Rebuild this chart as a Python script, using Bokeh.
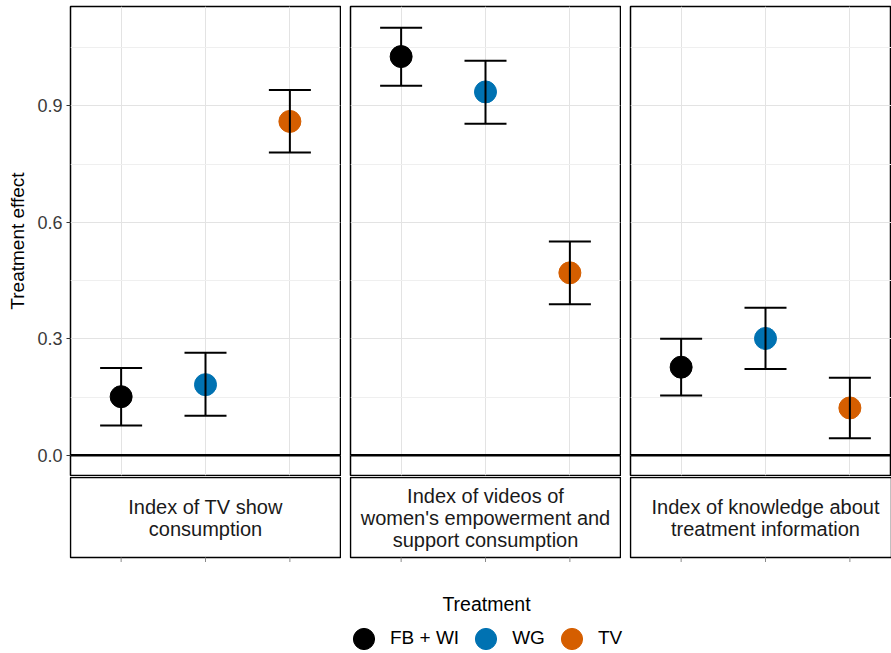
from bokeh.plotting import figure
from bokeh.models import (ColumnDataSource, Range1d, FixedTicker, PrintfTickFormatter,
                          Span, Whisker, TeeHead, Legend, LegendItem, Label)
from bokeh.layouts import column, row
from bokeh.core.properties import value
from bokeh.embed import file_html
from bokeh.resources import INLINE

# ---------------- data ----------------
treatments = ["FB + WI", "WG", "TV"]
colors = ["#000000", "#0072B2", "#D55E00"]
outcomes = [
    "Index of TV show\nconsumption",
    "Index of videos of\nwomen's empowerment and\nsupport consumption",
    "Index of knowledge about\ntreatment information",
]
est_tv = [0.151, 0.182, 0.860]
lo_tv = [0.077, 0.102, 0.780]
hi_tv = [0.225, 0.264, 0.941]

est_vid = [1.027, 0.936, 0.470]
lo_vid = [0.952, 0.854, 0.389]
hi_vid = [1.101, 1.016, 0.551]

est_know = [0.227, 0.301, 0.122]
lo_know = [0.154, 0.222, 0.044]
hi_know = [0.300, 0.380, 0.200]

y_ticks = [0.0, 0.3, 0.6, 0.9]
y_minor = [0.15, 0.45, 0.75, 1.05]
y_title = "Treatment effect"
legend_title = "Treatment"

# ---------------- styling / layout ----------------
FONT = "Liberation Sans"
ests = [est_tv, est_vid, est_know]
los = [lo_tv, lo_vid, lo_know]
his = [hi_tv, hi_vid, hi_know]

x_pos = list(range(1, len(treatments) + 1))
x_mid = sum(x_pos) / len(x_pos)
Y_LO, Y_HI = -0.052, 1.156
X_LO = 0.4
UNIT = 270 / 3.2           # px per category unit
STRIP_PX = 80.0            # px per strip unit
frame_w = [270, 270, 261]
left_b = [70, 9, 9]
right_b = [1, 1, 0]
GRID = "#e3e3e3"
MINOR = "#efefef"

panels, strips = [], []
for i in range(3):
    fig_w = left_b[i] + frame_w[i] + right_b[i]
    xr = Range1d(X_LO, X_LO + frame_w[i] / UNIT)
    p = figure(width=fig_w, height=476, x_range=xr,
               y_range=Range1d(Y_LO, Y_HI), output_backend="svg",
               toolbar_location=None, tools="", x_axis_location=None,
               y_axis_location="left" if i == 0 else None,
               min_border_left=left_b[i], min_border_right=right_b[i],
               min_border_top=6, min_border_bottom=1)
    p.background_fill_color = "white"
    p.border_fill_color = "white"
    p.outline_line_color = "black"
    p.outline_line_width = 1.5
    p.outline_line_alpha = 1.0

    p.ygrid.ticker = FixedTicker(ticks=y_ticks, minor_ticks=y_minor)
    p.ygrid.grid_line_color = GRID
    p.ygrid.grid_line_width = 1
    p.ygrid.minor_grid_line_color = MINOR
    p.ygrid.minor_grid_line_width = 1
    p.xgrid.ticker = FixedTicker(ticks=x_pos)
    p.xgrid.grid_line_color = GRID
    p.xgrid.grid_line_width = 1

    if i == 0:
        ax = p.yaxis[0]
        ax.ticker = FixedTicker(ticks=y_ticks, minor_ticks=y_minor)
        ax.formatter = PrintfTickFormatter(format="%.1f")
        ax.axis_line_color = None
        ax.minor_tick_line_color = None
        ax.major_tick_line_color = "#333333"
        ax.major_tick_out = 4
        ax.major_tick_in = 0
        ax.major_label_standoff = 4
        ax.major_label_text_font = FONT
        ax.major_label_text_font_size = "18px"
        ax.major_label_text_color = "#3a3a3a"
        ax.axis_label = y_title
        ax.axis_label_text_font = FONT
        ax.axis_label_text_font_style = "normal"
        ax.axis_label_text_font_size = "19px"
        ax.axis_label_text_color = "black"
        ax.axis_label_standoff = 6

    p.add_layout(Span(location=0, dimension="width", line_color="black",
                      line_width=2.5))

    src = ColumnDataSource(dict(x=x_pos, est=ests[i], lo=los[i], hi=his[i],
                                color=colors, treat=treatments))
    p.scatter(x="x", y="est", source=src, marker="circle", size=22,
              fill_color="color", line_color="color")
    w = Whisker(source=src, base="x", upper="hi", lower="lo", dimension="height",
                line_color="black", line_width=2,
                upper_head=TeeHead(size=42, line_width=2, line_color="black"),
                lower_head=TeeHead(size=42, line_width=2, line_color="black"))
    w.level = "overlay"
    p.add_layout(w)
    panels.append(p)

    # ---- strip below the panel (box + ticks drawn in its own frame) ----
    s_left = left_b[i] - 1
    s_frame = fig_w - s_left
    sxr = Range1d(X_LO - 1 / UNIT, X_LO - 1 / UNIT + s_frame / UNIT)
    syr = Range1d(-5 / STRIP_PX, 1 + 1 / STRIP_PX)
    s = figure(width=fig_w, height=86, x_range=sxr, y_range=syr,
               output_backend="svg", toolbar_location=None, tools="",
               x_axis_location=None, y_axis_location=None,
               min_border_left=s_left, min_border_right=0,
               min_border_top=0, min_border_bottom=0)
    s.background_fill_color = "white"
    s.border_fill_color = "white"
    s.outline_line_color = None
    s.grid.visible = False
    s.quad(left=[X_LO], right=[X_LO + frame_w[i] / UNIT], bottom=[0], top=[1],
           fill_color="white", line_color="black", line_width=1.5)
    s.segment(x0=x_pos, x1=x_pos, y0=[0] * len(x_pos),
              y1=[-5 / STRIP_PX] * len(x_pos), line_color="#8a8a8a", line_width=1)
    s.text(x=[x_mid], y=[0.5], text=[outcomes[i]], text_align="center",
           text_baseline="middle", text_font=value(FONT), text_font_size="20px",
           text_color="#1a1a1a", text_line_height=1.0)
    strips.append(s)

# ---------------- legend ----------------
lf = figure(width=891, height=91, x_range=Range1d(0, 1), y_range=Range1d(0, 1),
            output_backend="svg", toolbar_location=None, tools="",
            x_axis_location=None, y_axis_location=None, min_border=0)
lf.outline_line_color = None
lf.grid.visible = False
items = []
for t, c in zip(treatments, colors):
    r = lf.scatter(x=[float("nan")], y=[float("nan")], marker="circle", size=21,
                   fill_color=c, line_color=c)
    items.append(LegendItem(label=t, renderers=[r]))
leg = Legend(items=items, orientation="horizontal", location=(337, -11.5),
             glyph_width=53, glyph_height=53, label_standoff=0, spacing=0,
             padding=0, margin=0, border_line_color=None,
             background_fill_alpha=0, label_text_font=FONT,
             label_text_font_size="19px", label_text_color="black",
             label_text_baseline="middle")
lf.add_layout(leg, "center")
lf.add_layout(Label(x=486, y=50, x_units="screen", y_units="screen",
                    text=legend_title, text_align="center", text_baseline="middle",
                    text_font=FONT, text_font_size="19.5px", text_color="black"))

layout = column(row(*panels), row(*strips), lf)
open("out.html", "w").write(file_html(layout, INLINE))
